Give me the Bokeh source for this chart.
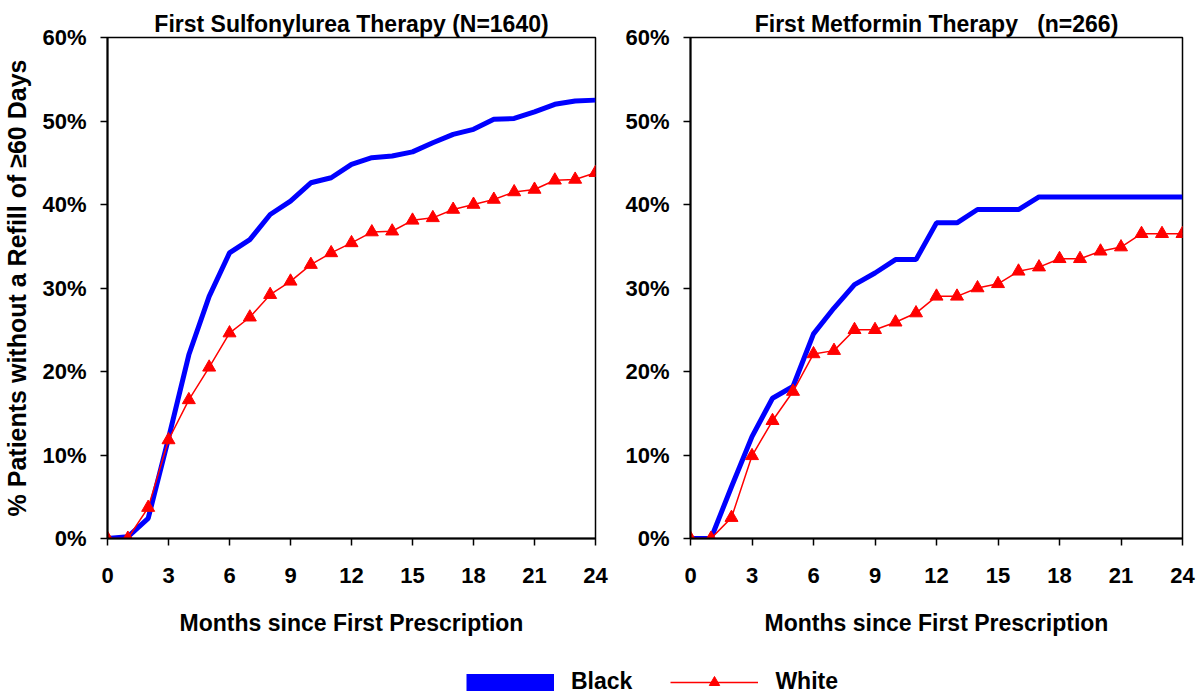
from bokeh.plotting import figure
from bokeh.models import Range1d, FixedTicker, PrintfTickFormatter, Legend, LegendItem
from bokeh.layouts import column, row
from bokeh.embed import file_html
from bokeh.resources import INLINE

months = list(range(25))

su_black = [0, 0.2, 2.4, 12.0, 22.0, 29.0, 34.2, 35.8, 38.8, 40.4, 42.6, 43.2, 44.8,
            45.6, 45.8, 46.3, 47.4, 48.4, 49.0, 50.2, 50.3, 51.1, 52.0, 52.4, 52.5]
su_white = [0, 0, 3.7, 11.8, 16.6, 20.5, 24.6, 26.5, 29.2, 30.8, 32.8, 34.2, 35.4,
            36.7, 36.8, 38.1, 38.4, 39.4, 40.0, 40.6, 41.5, 41.8, 42.9, 43.0, 43.8]
met_black = [0, 0, 6.2, 12.2, 16.8, 18.2, 24.5, 27.6, 30.4, 31.8, 33.4, 33.4, 37.8,
             37.8, 39.4, 39.4, 39.4, 40.9, 40.9, 40.9, 40.9, 40.9, 40.9, 40.9, 40.9]
met_white = [0, 0, 2.5, 9.9, 14.1, 17.6, 22.1, 22.5, 25.0, 25.0, 25.9, 27.0, 29.0,
             29.0, 30.0, 30.5, 32.0, 32.5, 33.5, 33.5, 34.4, 34.9, 36.5, 36.5, 36.5]

x_ticks = [0, 3, 6, 9, 12, 15, 18, 21, 24]
y_ticks = [0, 10, 20, 30, 40, 50, 60]

titles = ["First Sulfonylurea Therapy (N=1640)",
          "First Metformin Therapy \u00a0\u00a0(n=266)"]
x_label = "Months since First Prescription"
y_label = "% Patients without a Refill of \u226560 Days"
series_names = ["Black", "White"]

FONT = "Liberation Sans"
BLUE = "#0000FF"
RED = "#FF0000"


def make_panel(title, black, white, width, border_left, border_right, ylabel):
    p = figure(width=width, height=645, output_backend="svg", toolbar_location=None,
               x_range=Range1d(0, 24), y_range=Range1d(0, 60),
               min_border_left=border_left, min_border_right=border_right,
               min_border_top=37, min_border_bottom=107)
    p.title.text = title
    p.title.align = "center"
    p.title.text_font = FONT
    p.title.text_font_style = "bold"
    p.title.text_font_size = "23px"
    p.title.text_color = "black"
    p.title.standoff = 2
    p.title.offset = 0
    p.grid.visible = False
    p.outline_line_color = "black"
    p.outline_line_width = 1.5
    p.background_fill_color = "white"
    p.border_fill_color = "white"

    p.xaxis.ticker = FixedTicker(ticks=x_ticks)
    p.yaxis.ticker = FixedTicker(ticks=y_ticks)
    p.yaxis.formatter = PrintfTickFormatter(format="%d%%")
    for ax in (p.xaxis, p.yaxis):
        ax.axis_line_color = "black"
        ax.axis_line_width = 2
        ax.major_tick_line_color = "black"
        ax.major_tick_line_width = 1.5
        ax.major_tick_out = 7
        ax.major_tick_in = 0
        ax.minor_tick_line_color = None
        ax.major_label_text_font = FONT
        ax.major_label_text_font_style = "bold"
        ax.major_label_text_font_size = "22px"
        ax.major_label_text_color = "black"
        ax.axis_label_text_font = FONT
        ax.axis_label_text_font_style = "bold"
        ax.axis_label_text_font_size = "23px"
        ax.axis_label_text_color = "black"
    p.xaxis.major_label_standoff = 22
    p.xaxis.axis_label = x_label
    p.xaxis.axis_label_standoff = 24
    p.yaxis.major_label_standoff = 14
    if ylabel:
        p.yaxis.axis_label = ylabel
        p.yaxis.axis_label_text_font_size = "25px"
        p.yaxis.axis_label_standoff = 8

    p.line(months, black, line_color=BLUE, line_width=5)
    p.line(months, white, line_color=RED, line_width=1.5)
    p.scatter(months, white, marker="triangle", size=13, fill_color=RED, line_color=RED)
    return p


p1 = make_panel(titles[0], su_black, su_white, 610, 104, 15, y_label)
p2 = make_panel(titles[1], met_black, met_white, 586, 80, 14, None)

# legend strip: renderers use the real series but the view range excludes them
leg = figure(width=1196, height=50, output_backend="svg", toolbar_location=None,
             x_range=Range1d(-20, -19), y_range=Range1d(-20, -19),
             min_border=0, min_border_left=0, min_border_right=0,
             min_border_top=0, min_border_bottom=0)
leg.axis.visible = False
leg.grid.visible = False
leg.outline_line_color = None
r_black = leg.line(months, su_black, line_color=BLUE, line_width=17)
r_white_line = leg.line(months, su_white, line_color=RED, line_width=1.5)
r_white_pts = leg.scatter(months, su_white, marker="triangle", fill_color=RED, line_color=RED)
legend = Legend(items=[LegendItem(label=series_names[0], renderers=[r_black]),
                       LegendItem(label=series_names[1], renderers=[r_white_line, r_white_pts])],
                orientation="horizontal", location=(466, 0),
                glyph_width=88, glyph_height=26, label_standoff=17, spacing=38,
                padding=0, margin=0, border_line_color=None, background_fill_alpha=0,
                label_text_font=FONT, label_text_font_style="bold",
                label_text_font_size="23px", label_text_color="black")
leg.add_layout(legend, "center")

layout = column(row(p1, p2), leg)

with open("out.html", "w") as f:
    f.write(file_html(layout, INLINE))
